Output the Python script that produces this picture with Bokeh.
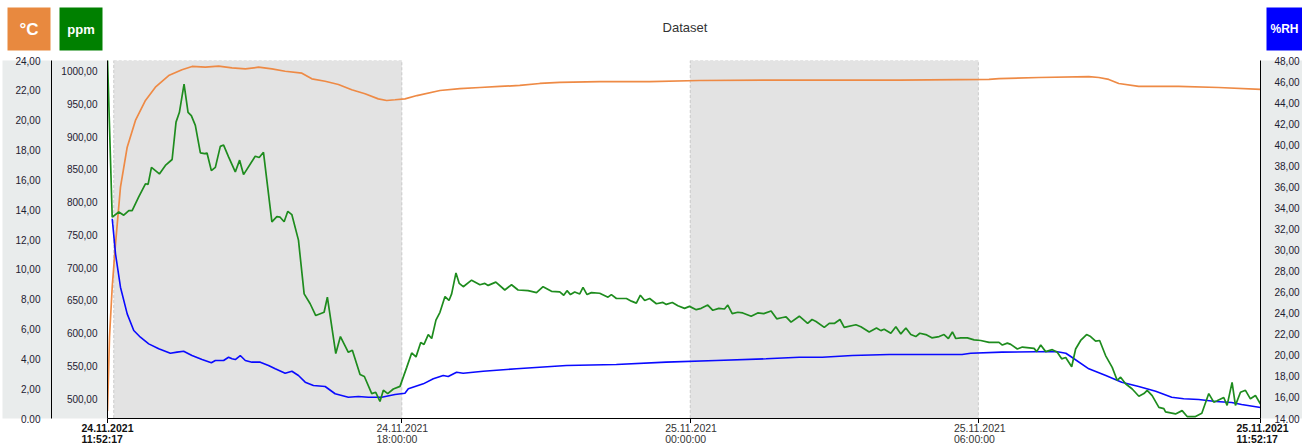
from datetime import datetime, timedelta
from bokeh.plotting import figure
from bokeh.layouts import column
from bokeh.models import (Range1d, LinearAxis, FixedTicker, CustomJSTickFormatter,
                          BoxAnnotation, ColumnDataSource)
from bokeh.core.properties import value
from bokeh.embed import file_html
from bokeh.resources import INLINE

START = datetime(2021, 11, 24, 11, 52, 17)
END = datetime(2021, 11, 25, 11, 52, 17)

# ---- data (minutes after START) ----
temp_min = [0, 2.5, 5.9, 10.0, 16.2, 24.6, 34.9, 47.4, 59.8, 76.4,
            93.0, 105.6, 122.2, 138.8, 155.5, 172.1, 188.6, 205.3, 221.9, 242.8,
            255.2, 271.8, 288.4, 305.0, 321.6, 338.2, 348.7, 359.1, 371.5, 386.5,
            415.2, 440.1, 465.1, 490.0, 514.9, 539.9, 564.8, 614.7, 677.0, 739.3,
            864.0, 988.7, 1100.9, 1113.4, 1163.3, 1225.6, 1238.1, 1250.5, 1263.0, 1287.9,
            1337.8, 1387.7, 1440.0]
temp_c = [0.5, 5.45, 8.83, 11.71, 15.51, 18.19, 19.98, 21.32, 22.21, 22.99,
          23.38, 23.60, 23.55, 23.62, 23.51, 23.44, 23.55, 23.44, 23.28, 23.15,
          22.77, 22.61, 22.39, 22.04, 21.77, 21.43, 21.32, 21.37, 21.43, 21.65,
          21.99, 22.12, 22.19, 22.26, 22.33, 22.46, 22.53, 22.59, 22.59, 22.66,
          22.69, 22.69, 22.73, 22.79, 22.86, 22.92, 22.86, 22.73, 22.46, 22.26,
          22.26, 22.19, 22.06]

rh_min = [5.9, 10.0, 16.2, 24.6, 32.8, 41.1, 51.5, 64.0, 78.5, 86.9,
          95.1, 105.5, 118.1, 129.7, 134.7, 145.0, 151.2, 155.5, 159.6, 165.8,
          172.1, 180.4, 190.8, 201.1, 209.5, 221.9, 230.3, 238.5, 246.9, 257.2,
          271.8, 284.3, 300.8, 313.3, 325.8, 342.5, 359.1, 371.5, 375.7, 394.4,
          406.9, 419.3, 425.5, 436.0, 444.2, 469.2, 510.8, 573.2, 635.5, 697.8,
          760.2, 822.5, 864.0, 892.7, 930.1, 976.3, 1067.3, 1078.1, 1117.1, 1184.5,
          1196.9, 1204.4, 1225.6, 1246.8, 1266.7, 1287.9, 1309.1, 1329.1, 1344.1, 1362.8,
          1384.0, 1403.9, 1416.4, 1440.0]
rh_pct = [32.97, 29.64, 26.47, 23.94, 22.36, 21.72, 21.09, 20.62, 20.20, 20.30,
          20.39, 19.98, 19.60, 19.29, 19.51, 19.51, 19.82, 19.67, 19.60, 19.98,
          19.51, 19.35, 19.35, 19.03, 18.72, 18.30, 18.49, 18.08, 17.45, 17.13,
          17.04, 16.35, 16.02, 16.09, 16.02, 16.02, 16.28, 16.40, 16.82, 17.29,
          17.77, 18.08, 17.99, 18.40, 18.30, 18.49, 18.72, 19.03, 19.13, 19.35,
          19.51, 19.67, 19.82, 19.82, 19.98, 20.08, 20.08, 20.20, 20.30, 20.36,
          20.20, 19.82, 18.72, 18.08, 17.45, 17.04, 16.59, 16.02, 15.87, 15.80,
          15.61, 15.52, 15.33, 15.04]

co2_min = [0, 5.9, 14.1, 20.3, 26.6, 30.8, 39.0, 47.4, 50.7, 54.9,
           64.8, 72.3, 80.7, 85.6, 89.8, 95.6, 100.6, 104.7, 109.7, 116.0,
           121.3, 124.3, 129.7, 134.7, 140.9, 145.0, 151.2, 159.6, 165.0, 169.9,
           184.5, 189.5, 194.8, 205.3, 211.5, 215.6, 220.6, 225.2, 230.2, 238.5,
           245.6, 253.1, 260.1, 270.5, 274.6, 285.1, 290.9, 300.8, 305.8, 315.4,
           320.8, 330.0, 335.0, 340.3, 344.5, 350.0, 357.0, 365.3, 373.7, 379.9,
           385.3, 391.2, 395.3, 400.6, 404.9, 410.2, 415.2, 421.5, 426.5, 429.8,
           435.2, 439.3, 444.3, 454.7, 465.1, 471.3, 475.4, 485.0, 496.2, 504.6,
           512.8, 525.3, 535.8, 544.0, 554.5, 564.8, 569.8, 573.9, 578.2, 583.5,
           589.8, 593.9, 598.9, 604.4, 614.7, 625.1, 629.3, 635.6, 648.1, 654.3,
           660.5, 665.5, 670.9, 677.1, 685.5, 693.7, 697.9, 705.4, 712.4, 720.7,
           726.9, 735.3, 741.5, 749.7, 756.0, 763.5, 770.6, 774.7, 780.2, 787.2,
           793.4, 803.9, 812.1, 819.6, 828.8, 835.8, 843.3, 847.5, 853.7, 864.0,
           874.4, 879.9, 884.9, 895.2, 901.4, 907.7, 914.8, 920.1, 934.7, 940.9,
           951.3, 960.4, 965.9, 970.0, 978.3, 984.6, 990.8, 997.1, 1003.3, 1009.5,
           1014.5, 1022.0, 1029.5, 1038.6, 1044.8, 1050.2, 1055.2, 1059.4, 1065.7, 1073.9,
           1082.3, 1090.6, 1101.0, 1113.4, 1117.6, 1123.8, 1128.1, 1136.3, 1142.6, 1157.2,
           1160.5, 1165.5, 1171.7, 1180.0, 1186.2, 1191.7, 1196.7, 1204.2, 1209.1, 1215.4,
           1222.8, 1227.8, 1234.1, 1239.1, 1246.5, 1254.8, 1261.1, 1265.3, 1271.5, 1279.8,
           1288.1, 1294.4, 1298.5, 1304.7, 1313.1, 1319.3, 1321.4, 1333.9, 1342.1, 1348.4,
           1358.8, 1366.7, 1375.4, 1381.6, 1385.8, 1394.1, 1398.3, 1404.5, 1408.7, 1415.0,
           1421.2, 1427.4, 1433.7, 1440.0]
co2_ppm = [1018, 777, 785, 780, 787, 787, 808, 828, 827, 853,
           843, 856, 865, 922, 937, 980, 937, 932, 917, 875,
           874, 875, 848, 853, 885, 887, 869, 846, 864, 842,
           870, 868, 876, 770, 778, 777, 770, 786, 781, 742,
           660, 645, 627, 632, 655, 569, 595, 571, 574, 537,
           534, 508, 510, 496, 513, 508, 515, 519, 548, 570,
           564, 586, 583, 598, 592, 620, 632, 656, 650, 660,
           692, 676, 671, 681, 674, 676, 673, 678, 666, 674,
           666, 665, 662, 671, 664, 663, 658, 665, 659, 663,
           660, 670, 659, 662, 661, 655, 659, 653, 653, 649,
           646, 658, 650, 653, 645, 647, 644, 647, 642, 638,
           641, 636, 638, 643, 635, 638, 637, 643, 630, 632,
           631, 626, 631, 630, 634, 622, 624, 625, 617, 626,
           615, 621, 618, 609, 615, 615, 621, 609, 613, 610,
           602, 608, 604, 606, 600, 610, 599, 608, 598, 595,
           600, 598, 593, 595, 598, 592, 602, 592, 593, 593,
           590, 589, 586, 586, 582, 585, 583, 576, 579, 577,
           572, 582, 572, 575, 571, 561, 563, 549, 576, 589,
           598, 595, 588, 589, 566, 548, 528, 533, 523, 515,
           504, 508, 513, 505, 487, 485, 480, 477, 482, 473,
           473, 478, 508, 495, 497, 502, 490, 525, 490, 510,
           513, 500, 505, 492]

shade_periods = [(datetime(2021, 11, 24, 12, 0, 0), datetime(2021, 11, 24, 18, 0, 0)),
                 (datetime(2021, 11, 25, 0, 0, 0), datetime(2021, 11, 25, 6, 0, 0))]

x_tick_times = [START, datetime(2021, 11, 24, 18), datetime(2021, 11, 25, 0),
                datetime(2021, 11, 25, 6), END]
x_tick_dates = ["24.11.2021", "24.11.2021", "25.11.2021", "25.11.2021", "25.11.2021"]
x_tick_clock = ["11:52:17", "18:00:00", "00:00:00", "06:00:00", "11:52:17"]
x_tick_bold = [True, False, False, False, True]

temp_ticks = list(range(0, 25, 2))
ppm_ticks = list(range(500, 1001, 50))
rh_ticks = list(range(14, 49, 2))

TITLE = "Dataset"
unit_text = ["°C", "ppm", "%RH"]
unit_color = ["#E8893F", "#008000", "#0000FF"]
unit_font = ["17px", "13px", "12px"]

C_TEMP = "#EE8A45"
C_CO2 = "#1E8C1E"
C_RH = "#0A0AFF"
PANEL = "#E9ECEC"
FONT = "Liberation Sans"

EPOCH = datetime(1970, 1, 1)


def ms(dt):
    return (dt - EPOCH).total_seconds() * 1000.0


def times(mins):
    return [ms(START + timedelta(minutes=m)) for m in mins]


# ---- geometry (page has no margin) ----
W = 1302
HEAD_H, FOOT_H = 51, 21
BL, BR, BT, BB = 107, 40, 9, 5
FRAME_H = 358
MAIN_H = BT + FRAME_H + BB
FRAME_W = W - BL - BR

# ================= main chart =================
p = figure(width=W, height=MAIN_H, x_axis_type="datetime",
           x_range=Range1d(ms(START), ms(END)), y_range=Range1d(470, 1016),
           output_backend="svg", toolbar_location=None,
           min_border_left=BL, min_border_right=BR, min_border_top=BT, min_border_bottom=BB)
p.frame_align = False
p.extra_y_ranges = {"temp": Range1d(0, 24), "rh": Range1d(14, 48)}
p.outline_line_color = None
p.xgrid.visible = False
p.ygrid.visible = False
p.background_fill_color = "white"
p.border_fill_color = "white"

num_fmt = "return tick.toFixed(2).replace('.', ',')"


def style_y(ax, ticks, standoff, pad):
    ax.ticker = FixedTicker(ticks=ticks)
    ax.major_tick_out = 0
    ax.major_tick_in = 0
    ax.minor_tick_out = 0
    ax.minor_tick_in = 0
    ax.major_label_standoff = standoff
    ax.major_label_text_font_size = "10px"
    ax.major_label_text_font = FONT
    ax.major_label_text_color = "#1d2030"
    ax.axis_line_color = "black"
    ax.axis_line_width = 1
    ax.formatter = CustomJSTickFormatter(code=num_fmt)
    if pad:
        ax.axis_label = " "
        ax.axis_label_text_font_size = "1px"
        ax.axis_label_standoff = pad
    ax.background_fill_color = PANEL


xa = p.xaxis[0]
xa.ticker = FixedTicker(ticks=[ms(t) for t in x_tick_times])
xa.formatter = CustomJSTickFormatter(code="return ''")
xa.major_tick_out = 5
xa.major_tick_in = 0
xa.minor_tick_out = 0
xa.minor_tick_in = 0
xa.major_label_standoff = 0
xa.axis_line_color = "black"
xa.major_tick_line_color = "black"

style_y(p.yaxis[0], ppm_ticks, 10, 3)

ta = LinearAxis(y_range_name="temp")
style_y(ta, temp_ticks, 11, 6)
p.add_layout(ta, "left")

ra = LinearAxis(y_range_name="rh")
style_y(ra, rh_ticks, 14, 0)
p.add_layout(ra, "right")

for a, b in shade_periods:
    p.add_layout(BoxAnnotation(left=ms(a), right=ms(b), fill_color="#E3E3E3", fill_alpha=1,
                               line_color="#7A7A7A", line_dash="3 2", line_width=1,
                               level="underlay"))

p.line(times(temp_min), temp_c, y_range_name="temp", line_color=C_TEMP, line_width=1.7)
p.line(times(rh_min), rh_pct, y_range_name="rh", line_color=C_RH, line_width=1.6)
p.line(times(co2_min), co2_ppm, line_color=C_CO2, line_width=1.7)

# ================= header: unit boxes + title =================
h = figure(width=W, height=HEAD_H, x_range=Range1d(0, W), y_range=Range1d(HEAD_H, 0),
           output_backend="svg", toolbar_location=None,
           x_axis_location=None, y_axis_location=None, min_border=0)
h.frame_align = False
h.outline_line_color = None
h.xgrid.visible = False
h.ygrid.visible = False
box_left = [7, 59, 1266]
box_right = [50, 102, W]
box_cx = [(a + b) / 2 for a, b in zip(box_left, box_right)]
h.quad(left=box_left, right=box_right, top=[7, 7, 7], bottom=[50, 50, 50],
       fill_color=unit_color, line_color=None)
for cx, txt, fs in zip(box_cx, unit_text, unit_font):
    h.text(x=[cx], y=[28.5], text=[txt], text_align="center", text_baseline="middle",
           text_color="white", text_font_style="bold", text_font_size=fs,
           text_font=value(FONT))
h.text(x=[BL + FRAME_W / 2], y=[27], text=[TITLE], text_align="center",
       text_baseline="middle", text_color="#333333", text_font_size="13px",
       text_font=value(FONT))

# ================= footer: x tick labels =================
mpp = (ms(END) - ms(START)) / FRAME_W
f = figure(width=W, height=FOOT_H,
           x_range=Range1d(ms(START) - BL * mpp, ms(START) + (W - BL) * mpp),
           y_range=Range1d(FOOT_H, 0), output_backend="svg", toolbar_location=None,
           x_axis_location=None, y_axis_location=None, min_border=0)
f.frame_align = False
f.outline_line_color = None
f.xgrid.visible = False
f.ygrid.visible = False
for bold in (True, False):
    sel = [i for i, b in enumerate(x_tick_bold) if b == bold]
    src = ColumnDataSource(dict(x=[ms(x_tick_times[i]) for i in sel],
                                d=[x_tick_dates[i] for i in sel],
                                c=[x_tick_clock[i] for i in sel]))
    style = "bold" if bold else "normal"
    col = "#111111" if bold else "#333333"
    f.text(x="x", y=4.5, text="d", source=src, x_offset=-26, text_align="left",
           text_baseline="middle", text_font_size="10.5px", text_font=value(FONT),
           text_font_style=style, text_color=col)
    f.text(x="x", y=15.0, text="c", source=src, x_offset=-26, text_align="left",
           text_baseline="middle", text_font_size="10.5px", text_font=value(FONT),
           text_font_style=style, text_color=col)

layout = column(h, p, f, spacing=0)
open("out.html", "w").write(file_html(layout, INLINE))
